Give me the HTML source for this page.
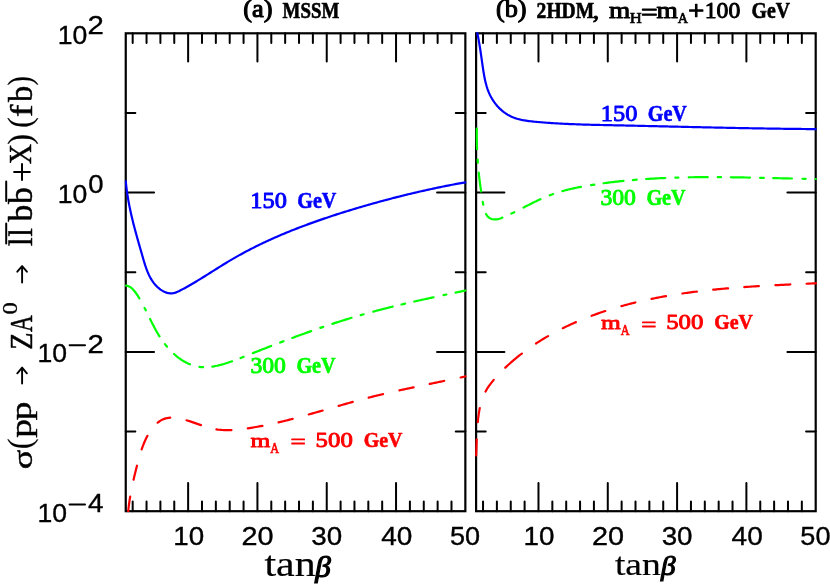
<!DOCTYPE html>
<html><head><meta charset="utf-8"><title>plot</title>
<style>html,body{margin:0;padding:0;background:#fff;}svg{display:block;}svg{font-family:"Liberation Sans",sans-serif;}.ser{font-family:"Liberation Serif",serif;}.lab{font-family:"Liberation Serif",serif;font-weight:bold;}</style></head><body>
<svg width="830" height="585" viewBox="0 0 830 585" style="will-change:transform">
<rect width="830" height="585" fill="#fff"/>
<defs>
<clipPath id="cl"><rect x="124.55" y="32.20" width="342.00" height="480.10"/></clipPath>
<clipPath id="cr"><rect x="474.90" y="32.20" width="342.00" height="480.10"/></clipPath>
</defs>
<g stroke="#000" fill="none" stroke-linecap="round">
<rect x="125.75" y="33.30" width="339.60" height="477.90" stroke-width="2.20" stroke-linejoin="miter"/>
<path d="M132.68 33.30v9.60M132.68 511.20v-9.60M146.54 33.30v9.60M146.54 511.20v-9.60M160.40 33.30v9.60M160.40 511.20v-9.60M174.26 33.30v9.60M174.26 511.20v-9.60M188.13 33.30v28.30M188.13 511.20v-28.30M201.99 33.30v9.60M201.99 511.20v-9.60M215.85 33.30v9.60M215.85 511.20v-9.60M229.71 33.30v9.60M229.71 511.20v-9.60M243.57 33.30v9.60M243.57 511.20v-9.60M257.43 33.30v28.30M257.43 511.20v-28.30M271.29 33.30v9.60M271.29 511.20v-9.60M285.15 33.30v9.60M285.15 511.20v-9.60M299.02 33.30v9.60M299.02 511.20v-9.60M312.88 33.30v9.60M312.88 511.20v-9.60M326.74 33.30v28.30M326.74 511.20v-28.30M340.60 33.30v9.60M340.60 511.20v-9.60M354.46 33.30v9.60M354.46 511.20v-9.60M368.32 33.30v9.60M368.32 511.20v-9.60M382.18 33.30v9.60M382.18 511.20v-9.60M396.04 33.30v28.30M396.04 511.20v-28.30M409.91 33.30v9.60M409.91 511.20v-9.60M423.77 33.30v9.60M423.77 511.20v-9.60M437.63 33.30v9.60M437.63 511.20v-9.60M451.49 33.30v9.60M451.49 511.20v-9.60M125.75 112.95h9.60M465.35 112.95h-9.60M125.75 192.60h28.30M465.35 192.60h-28.30M125.75 272.25h9.60M465.35 272.25h-9.60M125.75 351.90h28.30M465.35 351.90h-28.30M125.75 431.55h9.60M465.35 431.55h-9.60" stroke-width="2.00"/>
</g>
<g stroke="#000" fill="none" stroke-linecap="round">
<rect x="476.10" y="33.30" width="339.60" height="477.90" stroke-width="2.20" stroke-linejoin="miter"/>
<path d="M483.03 33.30v9.60M483.03 511.20v-9.60M496.89 33.30v9.60M496.89 511.20v-9.60M510.75 33.30v9.60M510.75 511.20v-9.60M524.61 33.30v9.60M524.61 511.20v-9.60M538.48 33.30v28.30M538.48 511.20v-28.30M552.34 33.30v9.60M552.34 511.20v-9.60M566.20 33.30v9.60M566.20 511.20v-9.60M580.06 33.30v9.60M580.06 511.20v-9.60M593.92 33.30v9.60M593.92 511.20v-9.60M607.78 33.30v28.30M607.78 511.20v-28.30M621.64 33.30v9.60M621.64 511.20v-9.60M635.50 33.30v9.60M635.50 511.20v-9.60M649.37 33.30v9.60M649.37 511.20v-9.60M663.23 33.30v9.60M663.23 511.20v-9.60M677.09 33.30v28.30M677.09 511.20v-28.30M690.95 33.30v9.60M690.95 511.20v-9.60M704.81 33.30v9.60M704.81 511.20v-9.60M718.67 33.30v9.60M718.67 511.20v-9.60M732.53 33.30v9.60M732.53 511.20v-9.60M746.39 33.30v28.30M746.39 511.20v-28.30M760.26 33.30v9.60M760.26 511.20v-9.60M774.12 33.30v9.60M774.12 511.20v-9.60M787.98 33.30v9.60M787.98 511.20v-9.60M801.84 33.30v9.60M801.84 511.20v-9.60M476.10 112.95h9.60M815.70 112.95h-9.60M476.10 192.60h28.30M815.70 192.60h-28.30M476.10 272.25h9.60M815.70 272.25h-9.60M476.10 351.90h28.30M815.70 351.90h-28.30M476.10 431.55h9.60M815.70 431.55h-9.60" stroke-width="2.00"/>
</g>
<g fill="none" stroke-width="2.20" stroke-linecap="round" stroke-linejoin="round">
<g clip-path="url(#cl)">
<path d="M125.80 181.40L125.94 182.89L126.09 184.39L126.26 185.88L126.43 187.37L126.61 188.86L126.80 190.34L127.00 191.83L127.22 193.31L127.44 194.80L127.67 196.28L127.91 197.76L128.16 199.24L128.42 200.72L128.68 202.19L128.96 203.67L129.24 205.14L129.53 206.61L129.83 208.08L130.14 209.55L130.45 211.02L130.77 212.48L131.10 213.95L131.43 215.41L131.77 216.87L132.12 218.33L132.47 219.79L132.83 221.24L133.19 222.70L133.56 224.15L133.93 225.61L134.31 227.06L134.69 228.51L135.08 229.96L135.47 231.41L135.86 232.86L136.26 234.30L136.65 235.75L137.06 237.19L137.46 238.64L137.87 240.08L138.27 241.53L138.68 242.97L139.09 244.41L139.51 245.85L139.92 247.30L140.33 248.74L140.75 250.18L141.16 251.62L141.58 253.06L141.99 254.50L142.41 255.95L142.82 257.39L143.23 258.83L143.65 260.27L144.08 261.71L144.52 263.14L144.96 264.57L145.43 266.00L145.91 267.42L146.41 268.84L146.93 270.24L147.48 271.64L148.06 273.02L148.67 274.39L149.32 275.75L150.00 277.08L150.72 278.40L151.49 279.68L152.30 280.95L153.16 282.18L154.07 283.37L155.02 284.52L156.03 285.63L157.09 286.70L158.20 287.71L159.35 288.67L160.55 289.57L161.80 290.40L163.09 291.16L164.43 291.84L165.82 292.41L167.24 292.88L168.70 293.21L170.19 293.38L171.69 293.37L173.18 293.18L174.64 292.83L176.06 292.37L177.46 291.81L178.82 291.19L180.16 290.52L181.49 289.82L182.82 289.12L184.14 288.41L185.45 287.68L186.76 286.96L188.07 286.22L189.37 285.48L190.67 284.73L191.97 283.98L193.27 283.22L194.56 282.45L195.84 281.69L197.13 280.91L198.41 280.14L199.69 279.35L200.97 278.57L202.25 277.78L203.52 276.99L204.80 276.20L206.07 275.40L207.34 274.61L208.61 273.81L209.88 273.01L211.15 272.21L212.42 271.41L213.69 270.61L214.96 269.81L216.23 269.01L217.50 268.22L218.77 267.42L220.04 266.63L221.31 265.83L222.59 265.04L223.87 264.26L225.15 263.47L226.43 262.69L227.71 261.92L229.00 261.15L230.29 260.38L231.58 259.62L232.87 258.86L234.17 258.11L235.47 257.36L236.77 256.62L238.08 255.88L239.39 255.15L240.70 254.43L242.02 253.70L243.34 252.99L244.66 252.28L245.98 251.57L247.31 250.87L248.64 250.18L249.97 249.48L251.30 248.80L252.64 248.12L253.98 247.44L255.32 246.77L256.66 246.10L258.01 245.44L259.36 244.78L260.71 244.13L262.06 243.48L263.41 242.84L264.77 242.20L266.13 241.56L267.49 240.93L268.85 240.30L270.22 239.68L271.59 239.06L272.95 238.45L274.33 237.84L275.70 237.24L277.07 236.64L278.45 236.04L279.83 235.45L281.21 234.86L282.59 234.27L283.97 233.69L285.36 233.12L286.74 232.54L288.13 231.97L289.52 231.41L290.91 230.85L292.30 230.29L293.70 229.74L295.09 229.19L296.49 228.64L297.89 228.10L299.29 227.56L300.69 227.02L302.09 226.49L303.49 225.96L304.90 225.43L306.30 224.91L307.71 224.39L309.12 223.87L310.53 223.36L311.94 222.85L313.35 222.35L314.77 221.84L316.18 221.34L317.59 220.84L319.01 220.35L320.43 219.86L321.85 219.37L323.27 218.88L324.69 218.40L326.11 217.92L327.53 217.44L328.95 216.97L330.38 216.50L331.80 216.03L333.23 215.56L334.65 215.10L336.08 214.63L337.51 214.17L338.94 213.72L340.36 213.26L341.79 212.81L343.23 212.36L344.66 211.91L346.09 211.47L347.52 211.02L348.96 210.58L350.39 210.14L351.83 209.70L353.26 209.27L354.70 208.83L356.13 208.40L357.57 207.97L359.01 207.55L360.45 207.12L361.89 206.70L363.33 206.28L364.77 205.86L366.21 205.44L367.65 205.03L369.09 204.62L370.53 204.21L371.98 203.80L373.42 203.39L374.87 202.99L376.31 202.59L377.76 202.19L379.20 201.79L380.65 201.39L382.10 201.00L383.55 200.61L385.00 200.22L386.44 199.83L387.89 199.45L389.34 199.07L390.80 198.69L392.25 198.31L393.70 197.93L395.15 197.56L396.61 197.19L398.06 196.82L399.51 196.45L400.97 196.09L402.42 195.73L403.88 195.37L405.34 195.01L406.79 194.65L408.25 194.30L409.71 193.95L411.17 193.60L412.63 193.25L414.09 192.91L415.55 192.56L417.01 192.22L418.47 191.89L419.93 191.55L421.40 191.22L422.86 190.89L424.32 190.56L425.79 190.23L427.25 189.91L428.72 189.59L430.18 189.27L431.65 188.95L433.12 188.63L434.58 188.32L436.05 188.01L437.52 187.70L438.99 187.40L440.46 187.10L441.93 186.79L443.40 186.50L444.87 186.20L446.34 185.91L447.81 185.61L449.28 185.33L450.75 185.04L452.22 184.75L453.70 184.47L455.17 184.19L456.65 183.91L458.12 183.64L459.60 183.37L461.07 183.10L462.55 182.83L464.02 182.56L465.50 182.30" stroke="#0000ff"/>
<path d="M125.88 285.53L127.46 285.83L128.96 286.42L130.36 287.23L131.65 288.20L132.84 289.29L133.94 290.47L134.96 291.72L135.93 293.01L136.85 294.34L137.73 295.69L138.58 297.07L139.40 298.46M144.55 307.93L145.77 310.32M150.06 318.97L150.74 320.33L151.42 321.70L152.10 323.05L152.80 324.41L153.50 325.76L154.20 327.11L154.92 328.46L155.65 329.79L156.40 331.12L157.15 332.44L157.92 333.76L158.71 335.06L159.51 336.36M164.96 344.14L165.99 345.43L167.04 346.70M174.03 353.98L175.23 355.04L176.45 356.07L177.69 357.07L178.96 358.04L180.25 358.97L181.57 359.87L182.92 360.73L184.29 361.54L185.69 362.32L187.11 363.04L188.55 363.72L190.02 364.35M199.45 366.85L201.27 367.04L203.10 367.14M212.34 366.57L213.90 366.33L215.45 366.04L216.99 365.73L218.53 365.38L220.06 365.01L221.58 364.61L223.10 364.19L224.61 363.75L226.12 363.29L227.62 362.81L229.12 362.31L230.61 361.80L232.09 361.27M240.56 358.04L242.10 357.43L243.64 356.82M252.80 353.17L254.22 352.61L255.63 352.05L257.04 351.49L258.46 350.93L259.87 350.38L261.28 349.82L262.70 349.27L264.11 348.71L265.53 348.16L266.94 347.61L268.36 347.05L269.78 346.50L271.19 345.96M280.16 342.51L281.84 341.87L283.52 341.23M292.26 337.95L293.72 337.41L295.17 336.88L296.62 336.34L298.07 335.81L299.52 335.28L300.98 334.75L302.43 334.22L303.88 333.69L305.34 333.17L306.80 332.65L308.25 332.13L309.71 331.61L311.17 331.09M320.31 327.91L321.79 327.40L323.26 326.90M332.38 323.86L333.85 323.38L335.32 322.90L336.79 322.42L338.26 321.95L339.73 321.48L341.21 321.01L342.68 320.55L344.16 320.09L345.63 319.63L347.11 319.17L348.59 318.72L350.07 318.27L351.55 317.82M360.76 315.10L363.63 314.29M373.35 311.61L374.83 311.21L376.32 310.81L377.80 310.42L379.29 310.03L380.77 309.64L382.26 309.26L383.75 308.88L385.23 308.50L386.72 308.12L388.21 307.75L389.70 307.37L391.19 307.00L392.68 306.63M401.50 304.50L403.31 304.07L405.13 303.65M414.23 301.55L415.73 301.21L417.22 300.87L418.72 300.53L420.21 300.20L421.71 299.87L423.20 299.53L424.70 299.20L426.19 298.87L427.69 298.55L429.18 298.22L430.68 297.89L432.18 297.57L433.67 297.25M443.54 295.13L446.39 294.53M455.53 292.61L457.21 292.25L458.89 291.90L460.57 291.55L462.24 291.20L463.92 290.85L465.60 290.50" stroke="#00ff00"/>
<path d="M128.20 511.50L128.35 509.99L128.51 508.49L128.69 506.98L128.87 505.48L129.07 503.98L129.27 502.48L129.49 500.98L129.71 499.48L129.95 497.99L130.20 496.49M133.55 479.73L133.91 478.17L134.28 476.61L134.65 475.05L135.03 473.49L135.41 471.94L135.80 470.38L136.19 468.83L136.58 467.27L136.98 465.72M141.64 449.41L142.18 447.86L142.74 446.32L143.33 444.78L143.94 443.26L144.58 441.74L145.25 440.25L145.96 438.76L146.69 437.29L147.46 435.84M157.66 422.71L158.87 421.76L160.13 420.89L161.44 420.11L162.81 419.43L164.23 418.85L165.70 418.39L167.19 418.05L168.70 417.82L170.23 417.69M186.53 420.27L187.98 420.71L189.43 421.17L190.88 421.65L192.32 422.13L193.76 422.62L195.20 423.12L196.64 423.63L198.07 424.13L199.51 424.63L200.95 425.13M216.41 429.34L217.91 429.56L219.41 429.74L220.91 429.89L222.42 430.01L223.93 430.09L225.44 430.14L226.95 430.17L228.46 430.16L229.97 430.13L231.48 430.07M247.82 428.32L249.44 428.07L251.07 427.81L252.69 427.55L254.31 427.28L255.93 427.00L257.55 426.71L259.17 426.41L260.78 426.11L262.40 425.80M278.52 422.35L280.09 421.98L281.67 421.60L283.24 421.22L284.81 420.84L286.38 420.45L287.95 420.06L289.52 419.66L291.09 419.26L292.66 418.85M308.78 414.49L310.32 414.06L311.87 413.62L313.41 413.18L314.96 412.74L316.50 412.30L318.04 411.86L319.58 411.42L321.13 410.98L322.67 410.53M338.66 405.91L340.23 405.46L341.79 405.01L343.36 404.56L344.93 404.12L346.49 403.67L348.06 403.23L349.63 402.79L351.19 402.35L352.76 401.91M368.70 397.63L370.29 397.23L371.88 396.82L373.48 396.42L375.07 396.03L376.66 395.63L378.26 395.25L379.86 394.86L381.45 394.48L383.05 394.10M399.40 390.37L400.98 390.02L402.57 389.68L404.15 389.33L405.73 388.99L407.32 388.65L408.90 388.31L410.48 387.97L412.07 387.64L413.65 387.30M429.74 383.95L431.35 383.62L432.96 383.28L434.57 382.95L436.18 382.62L437.78 382.29L439.39 381.95L441.00 381.62L442.61 381.29L444.22 380.95M460.70 377.47L462.33 377.11L463.97 376.76L465.60 376.40" stroke="#ff0000"/>
</g>
<g clip-path="url(#cr)">
<path d="M477.30 33.00L477.61 34.47L477.91 35.94L478.20 37.42L478.48 38.89L478.75 40.37L479.01 41.85L479.26 43.33L479.51 44.81L479.75 46.30L479.98 47.78L480.21 49.26L480.44 50.75L480.66 52.24L480.88 53.72L481.09 55.21L481.30 56.70L481.52 58.18L481.73 59.67L481.94 61.16L482.15 62.65L482.37 64.13L482.58 65.62L482.80 67.11L483.03 68.59L483.25 70.08L483.48 71.56L483.72 73.04L483.98 74.53L484.24 76.00L484.52 77.48L484.81 78.95L485.13 80.42L485.46 81.89L485.82 83.35L486.21 84.80L486.62 86.24L487.07 87.68L487.54 89.10L488.05 90.51L488.60 91.91L489.19 93.29L489.82 94.66L490.49 96.00L491.20 97.33L491.94 98.63L492.73 99.91L493.55 101.17L494.41 102.40L495.31 103.61L496.25 104.78L497.22 105.93L498.23 107.04L499.27 108.12L500.35 109.17L501.46 110.17L502.61 111.14L503.79 112.07L505.01 112.96L506.25 113.80L507.52 114.60L508.83 115.35L510.16 116.04L511.51 116.69L512.89 117.29L514.29 117.84L515.71 118.33L517.14 118.78L518.59 119.18L520.05 119.54L521.51 119.87L522.99 120.17L524.46 120.43L525.95 120.67L527.43 120.89L528.92 121.08L530.42 121.26L531.91 121.43L533.40 121.58L534.90 121.73L536.39 121.87L537.89 122.00L539.39 122.14L540.88 122.26L542.38 122.39L543.88 122.51L545.38 122.62L546.87 122.74L548.37 122.85L549.87 122.95L551.37 123.05L552.87 123.15L554.37 123.25L555.87 123.34L557.37 123.43L558.87 123.51L560.37 123.60L561.87 123.68L563.37 123.75L564.87 123.83L566.37 123.90L567.87 123.97L569.37 124.03L570.87 124.10L572.37 124.16L573.88 124.22L575.38 124.27L576.88 124.33L578.38 124.38L579.88 124.43L581.38 124.48L582.88 124.53L584.39 124.57L585.89 124.62L587.39 124.66L588.89 124.70L590.39 124.74L591.89 124.78L593.40 124.82L594.90 124.85L596.40 124.89L597.90 124.92L599.40 124.96L600.91 124.99L602.41 125.02L603.91 125.06L605.41 125.09L606.91 125.12L608.42 125.15L609.92 125.18L611.42 125.21L612.92 125.25L614.42 125.28L615.93 125.31L617.43 125.34L618.93 125.37L620.43 125.41L621.93 125.44L623.44 125.47L624.94 125.50L626.44 125.54L627.94 125.57L629.44 125.60L630.95 125.64L632.45 125.67L633.95 125.70L635.45 125.74L636.95 125.77L638.46 125.81L639.96 125.84L641.46 125.87L642.96 125.91L644.46 125.94L645.97 125.98L647.47 126.01L648.97 126.04L650.47 126.08L651.97 126.11L653.48 126.15L654.98 126.18L656.48 126.22L657.98 126.25L659.48 126.29L660.98 126.32L662.49 126.36L663.99 126.39L665.49 126.43L666.99 126.46L668.49 126.50L670.00 126.53L671.50 126.56L673.00 126.60L674.50 126.63L676.00 126.67L677.51 126.70L679.01 126.74L680.51 126.77L682.01 126.81L683.51 126.84L685.02 126.88L686.52 126.91L688.02 126.94L689.52 126.98L691.02 127.01L692.53 127.05L694.03 127.08L695.53 127.11L697.03 127.15L698.53 127.18L700.04 127.22L701.54 127.25L703.04 127.28L704.54 127.32L706.04 127.35L707.55 127.38L709.05 127.41L710.55 127.45L712.05 127.48L713.55 127.51L715.06 127.54L716.56 127.58L718.06 127.61L719.56 127.64L721.06 127.67L722.57 127.70L724.07 127.73L725.57 127.77L727.07 127.80L728.57 127.83L730.08 127.86L731.58 127.89L733.08 127.92L734.58 127.95L736.08 127.98L737.59 128.01L739.09 128.04L740.59 128.06L742.09 128.09L743.59 128.12L745.10 128.15L746.60 128.18L748.10 128.20L749.60 128.23L751.10 128.26L752.61 128.29L754.11 128.31L755.61 128.34L757.11 128.37L758.62 128.39L760.12 128.42L761.62 128.44L763.12 128.47L764.62 128.49L766.13 128.51L767.63 128.54L769.13 128.56L770.63 128.59L772.13 128.61L773.64 128.63L775.14 128.65L776.64 128.67L778.14 128.70L779.65 128.72L781.15 128.74L782.65 128.76L784.15 128.78L785.65 128.80L787.16 128.82L788.66 128.84L790.16 128.85L791.66 128.87L793.17 128.89L794.67 128.91L796.17 128.92L797.67 128.94L799.17 128.96L800.68 128.97L802.18 128.99L803.68 129.00L805.18 129.01L806.69 129.03L808.19 129.04L809.69 129.05L811.19 129.07L812.70 129.08L814.20 129.09L815.70 129.10" stroke="#0000ff"/>
<path d="M476.80 128.50L476.79 130.09L476.78 131.68L476.77 133.27L476.77 134.86L476.78 136.45L476.79 138.04L476.81 139.63L476.84 141.22L476.87 142.81L476.91 144.40L476.95 145.99L477.00 147.58L477.06 149.16M477.61 159.52L477.72 161.08L477.83 162.64M478.74 172.70L478.91 174.26L479.08 175.83L479.26 177.40L479.45 178.97L479.64 180.54L479.84 182.10L480.04 183.67L480.25 185.23L480.46 186.80L480.68 188.36L480.90 189.92L481.13 191.48M482.77 201.95L483.24 204.67M486.03 213.96L486.83 215.31L487.79 216.54L488.94 217.60L490.28 218.43L491.74 219.00L493.27 219.33L494.83 219.44L496.39 219.36L497.94 219.10L499.45 218.69L500.93 218.17L502.39 217.59M511.34 213.58L512.80 212.89L514.25 212.18M523.58 207.50L524.98 206.79L526.37 206.08L527.77 205.37L529.17 204.66L530.57 203.96L531.97 203.26L533.37 202.57L534.78 201.88L536.19 201.20L537.60 200.52L539.02 199.86L540.44 199.21M549.80 195.28L551.45 194.67L553.11 194.08M562.41 191.15L563.94 190.72L565.47 190.31L567.01 189.91L568.55 189.52L570.09 189.15L571.64 188.79L573.19 188.44L574.74 188.10L576.29 187.77L577.84 187.45L579.40 187.14L580.96 186.83M591.09 185.07L592.71 184.81L594.33 184.56M603.65 183.23L605.17 183.02L606.70 182.82L608.22 182.63L609.75 182.44L611.28 182.25L612.80 182.07L614.33 181.89L615.86 181.71L617.39 181.54L618.91 181.37L620.44 181.21L621.97 181.05L623.50 180.89M632.84 180.03L634.79 179.86L636.73 179.70M646.08 179.02L647.68 178.91L649.28 178.81L650.89 178.71L652.49 178.62L654.10 178.53L655.71 178.44L657.31 178.36L658.92 178.27L660.52 178.20L662.13 178.12L663.74 178.05L665.34 177.98M675.34 177.62L676.86 177.57L678.39 177.53M688.67 177.30L690.26 177.27L691.84 177.25L693.42 177.23L695.01 177.21L696.59 177.19L698.18 177.17L699.76 177.16L701.35 177.15L702.93 177.14L704.52 177.13L706.10 177.13L707.69 177.12M717.77 177.14L719.40 177.15L721.03 177.16M730.76 177.26L732.36 177.28L733.97 177.30L735.57 177.32L737.18 177.35L738.78 177.37L740.38 177.40L741.99 177.42L743.59 177.45L745.19 177.48L746.80 177.51L748.40 177.54L750.01 177.57M760.09 177.78L761.94 177.83L763.78 177.87M773.16 178.09L774.72 178.12L776.28 178.16L777.84 178.20L779.41 178.23L780.97 178.27L782.53 178.31L784.09 178.34L785.66 178.38L787.22 178.42L788.78 178.45L790.34 178.49L791.91 178.52M802.48 178.75L804.08 178.79L805.68 178.82M815.55 178.99L815.90 179.00" stroke="#00ff00"/>
<path d="M476.20 455.50L476.25 453.90L476.31 452.29L476.36 450.69L476.40 449.09L476.45 447.48L476.50 445.88L476.55 444.27L476.61 442.67L476.66 441.07L476.72 439.46M477.79 422.10L477.94 420.53L478.11 418.96L478.29 417.40L478.49 415.84L478.71 414.28L478.94 412.73L479.20 411.17L479.48 409.63L479.79 408.08M485.53 391.50L486.31 390.12L487.12 388.77L487.98 387.43L488.87 386.13L489.79 384.84L490.74 383.57L491.71 382.33L492.71 381.10L493.72 379.88M505.30 367.67L506.43 366.60L507.57 365.54L508.72 364.50L509.88 363.46L511.04 362.43L512.21 361.41L513.39 360.40L514.58 359.39L515.77 358.40L516.97 357.41L518.18 356.43L519.39 355.47L520.61 354.51L521.84 353.55M535.98 343.51L537.31 342.66L538.63 341.80L539.96 340.96L541.30 340.13L542.64 339.31L543.99 338.49L545.34 337.68L546.70 336.88L548.07 336.09M562.81 328.22L564.25 327.51L565.70 326.81L567.15 326.12L568.60 325.43L570.06 324.76L571.52 324.09L572.98 323.43L574.45 322.78L575.92 322.13M591.63 315.80L593.13 315.24L594.64 314.69L596.15 314.15L597.66 313.61L599.18 313.08L600.70 312.56L602.22 312.04L603.74 311.53L605.27 311.03M621.45 306.13L622.99 305.70L624.54 305.28L626.09 304.86L627.64 304.45L629.19 304.05L630.74 303.65L632.30 303.25L633.85 302.87L635.41 302.49M651.50 298.88L653.11 298.56L654.72 298.23L656.34 297.91L657.95 297.60L659.57 297.29L661.19 296.99L662.80 296.70L664.42 296.40L666.04 296.12M682.37 293.49L683.98 293.26L685.59 293.03L687.20 292.81L688.81 292.59L690.42 292.37L692.03 292.16L693.65 291.95L695.26 291.74L696.87 291.54M713.20 289.70L714.86 289.54L716.51 289.37L718.16 289.21L719.82 289.05L721.47 288.90L723.13 288.75L724.78 288.60L726.44 288.46L728.09 288.31M744.28 287.06L745.90 286.95L747.51 286.84L749.13 286.73L750.75 286.62L752.37 286.51L753.98 286.41L755.60 286.31L757.22 286.21L758.84 286.11M775.37 285.20L777.03 285.11L778.69 285.03L780.35 284.94L782.01 284.86L783.67 284.78L785.33 284.70L786.99 284.62L788.65 284.54L790.31 284.47M806.54 283.73L808.13 283.66L809.73 283.59L811.32 283.51L812.91 283.44L814.51 283.37L816.10 283.30" stroke="#ff0000"/>
</g>
</g>
<text transform="translate(175.55 527.15) scale(0.2778 0.2521) translate(-108 -130)" x="100" y="200" font-family="Liberation Sans" font-weight="normal" font-style="normal" font-size="100" stroke="#000" stroke-width="1.4">10</text>
<text transform="translate(243.05 527.15) scale(0.2882 0.2521) translate(-105 -130)" x="100" y="200" font-family="Liberation Sans" font-weight="normal" font-style="normal" font-size="100" stroke="#000" stroke-width="1.4">20</text>
<text transform="translate(312.45 527.15) scale(0.2777 0.2521) translate(-104 -130)" x="100" y="200" font-family="Liberation Sans" font-weight="normal" font-style="normal" font-size="100" stroke="#000" stroke-width="1.4">30</text>
<text transform="translate(381.85 527.15) scale(0.2800 0.2521) translate(-102 -130)" x="100" y="200" font-family="Liberation Sans" font-weight="normal" font-style="normal" font-size="100" stroke="#000" stroke-width="1.4">40</text>
<text transform="translate(451.15 527.15) scale(0.2709 0.2521) translate(-104 -130)" x="100" y="200" font-family="Liberation Sans" font-weight="normal" font-style="normal" font-size="100" stroke="#000" stroke-width="1.4">50</text>
<text transform="translate(525.85 527.15) scale(0.2778 0.2521) translate(-108 -130)" x="100" y="200" font-family="Liberation Sans" font-weight="normal" font-style="normal" font-size="100" stroke="#000" stroke-width="1.4">10</text>
<text transform="translate(593.35 527.15) scale(0.2882 0.2521) translate(-105 -130)" x="100" y="200" font-family="Liberation Sans" font-weight="normal" font-style="normal" font-size="100" stroke="#000" stroke-width="1.4">20</text>
<text transform="translate(662.75 527.15) scale(0.2777 0.2521) translate(-104 -130)" x="100" y="200" font-family="Liberation Sans" font-weight="normal" font-style="normal" font-size="100" stroke="#000" stroke-width="1.4">30</text>
<text transform="translate(732.15 527.15) scale(0.2800 0.2521) translate(-102 -130)" x="100" y="200" font-family="Liberation Sans" font-weight="normal" font-style="normal" font-size="100" stroke="#000" stroke-width="1.4">40</text>
<text transform="translate(801.45 527.15) scale(0.2709 0.2521) translate(-104 -130)" x="100" y="200" font-family="Liberation Sans" font-weight="normal" font-style="normal" font-size="100" stroke="#000" stroke-width="1.4">50</text>
<text transform="translate(59.95 25.65) scale(0.2657 0.2606) translate(-108 -130)" x="100" y="200" font-family="Liberation Sans" font-weight="normal" font-style="normal" font-size="100" stroke="#000" stroke-width="1.4">10</text>
<text transform="translate(88.95 16.45) scale(0.2935 0.2571) translate(-105 -130)" x="100" y="200" font-family="Liberation Sans" font-weight="normal" font-style="normal" font-size="100" stroke="#000" stroke-width="1.4">2</text>
<text transform="translate(59.95 184.95) scale(0.2657 0.2606) translate(-108 -130)" x="100" y="200" font-family="Liberation Sans" font-weight="normal" font-style="normal" font-size="100" stroke="#000" stroke-width="1.4">10</text>
<text transform="translate(89.35 175.75) scale(0.2750 0.2535) translate(-104 -130)" x="100" y="200" font-family="Liberation Sans" font-weight="normal" font-style="normal" font-size="100" stroke="#000" stroke-width="1.4">0</text>
<text transform="translate(39.65 344.25) scale(0.2657 0.2606) translate(-108 -130)" x="100" y="200" font-family="Liberation Sans" font-weight="normal" font-style="normal" font-size="100" stroke="#000" stroke-width="1.4">10</text>
<text transform="translate(88.95 335.05) scale(0.2935 0.2571) translate(-105 -130)" x="100" y="200" font-family="Liberation Sans" font-weight="normal" font-style="normal" font-size="100" stroke="#000" stroke-width="1.4">2</text>
<path d="M69.6 345.20H85.0" stroke="#000" stroke-width="2" stroke-linecap="round" fill="none"/>
<text transform="translate(39.65 503.55) scale(0.2657 0.2606) translate(-108 -130)" x="100" y="200" font-family="Liberation Sans" font-weight="normal" font-style="normal" font-size="100" stroke="#000" stroke-width="1.4">10</text>
<text transform="translate(88.55 494.35) scale(0.2784 0.2571) translate(-102 -130)" x="100" y="200" font-family="Liberation Sans" font-weight="normal" font-style="normal" font-size="100" stroke="#000" stroke-width="1.4">4</text>
<path d="M69.6 504.50H85.0" stroke="#000" stroke-width="2" stroke-linecap="round" fill="none"/>
<text transform="translate(264.80 556.30) scale(0.4200 0.3579) translate(-101 -144)" x="100" y="200" font-family="Liberation Serif" font-weight="normal" font-style="normal" font-size="100" stroke="#000" stroke-width="0.6">tan</text>
<text transform="translate(314.70 555.70) scale(0.3115 0.3022) translate(-98 -130)" x="100" y="200" font-family="Liberation Serif" font-weight="normal" font-style="italic" font-size="100" stroke="#000" stroke-width="4.0">β</text>
<text transform="translate(615.30 557.20) scale(0.3750 0.3228) translate(-101 -144)" x="100" y="200" font-family="Liberation Serif" font-weight="normal" font-style="normal" font-size="100" stroke="#000" stroke-width="0.6">tan</text>
<text transform="translate(660.30 556.80) scale(0.2923 0.2659) translate(-98 -130)" x="100" y="200" font-family="Liberation Serif" font-weight="normal" font-style="italic" font-size="100" stroke="#000" stroke-width="4.0">β</text>
<text transform="translate(244.40 0.40) scale(0.2641 0.2422) translate(-104 -131)" x="100" y="200" font-family="Liberation Serif" font-weight="normal" font-style="normal" font-size="100" stroke="#000" stroke-width="4.2" stroke-linejoin="round">(a)</text>
<text transform="translate(283.00 3.30) scale(0.1888 0.2235) translate(-102 -134)" x="100" y="200" font-family="Liberation Serif" font-weight="bold" font-style="normal" font-size="100" stroke="#000" stroke-width="2.8" stroke-linejoin="round">MSSM</text>
<text transform="translate(497.00 0.40) scale(0.2630 0.2422) translate(-104 -131)" x="100" y="200" font-family="Liberation Serif" font-weight="normal" font-style="normal" font-size="100" stroke="#000" stroke-width="4.2" stroke-linejoin="round">(b)</text>
<text transform="translate(537.40 3.30) scale(0.1955 0.2254) translate(-104 -134)" x="100" y="200" font-family="Liberation Serif" font-weight="bold" font-style="normal" font-size="100" stroke="#000" stroke-width="2.8" stroke-linejoin="round">2HDM</text>
<text transform="translate(593.80 15.20) scale(0.2533 0.2346) translate(-104 -190)" x="100" y="200" font-family="Liberation Serif" font-weight="normal" font-style="normal" font-size="100" stroke="#000" stroke-width="4.2" stroke-linejoin="round">,</text>
<text transform="translate(609.60 7.70) scale(0.2730 0.2255) translate(-102 -153)" x="100" y="200" font-family="Liberation Serif" font-weight="normal" font-style="normal" font-size="100" stroke="#000" stroke-width="4.2" stroke-linejoin="round">m</text>
<text transform="translate(630.20 13.30) scale(0.1667 0.1545) translate(-103 -135)" x="100" y="200" font-family="Liberation Serif" font-weight="normal" font-style="normal" font-size="100" stroke="#000" stroke-width="4.2" stroke-linejoin="round">H</text>
<text transform="translate(642.50 10.00) scale(0.2957 0.2440) translate(-105 -154)" x="100" y="200" font-family="Liberation Serif" font-weight="normal" font-style="normal" font-size="100" stroke="#000" stroke-width="4.2" stroke-linejoin="round">=</text>
<text transform="translate(657.00 7.70) scale(0.2743 0.2255) translate(-102 -153)" x="100" y="200" font-family="Liberation Serif" font-weight="normal" font-style="normal" font-size="100" stroke="#000" stroke-width="4.2" stroke-linejoin="round">m</text>
<text transform="translate(677.90 13.30) scale(0.1423 0.1545) translate(-101 -134)" x="100" y="200" font-family="Liberation Serif" font-weight="normal" font-style="normal" font-size="100" stroke="#000" stroke-width="4.2" stroke-linejoin="round">A</text>
<text transform="translate(689.60 4.00) scale(0.2830 0.2830) translate(-105 -143)" x="100" y="200" font-family="Liberation Serif" font-weight="normal" font-style="normal" font-size="100" stroke="#000" stroke-width="4.2" stroke-linejoin="round">+</text>
<text transform="translate(706.90 3.40) scale(0.2365 0.2235) translate(-109 -134)" x="100" y="200" font-family="Liberation Serif" font-weight="normal" font-style="normal" font-size="100" stroke="#000" stroke-width="4.2" stroke-linejoin="round">100</text>
<text transform="translate(752.60 3.30) scale(0.1973 0.2250) translate(-105 -134)" x="100" y="200" font-family="Liberation Serif" font-weight="bold" font-style="normal" font-size="100" stroke="#000" stroke-width="2.8" stroke-linejoin="round">GeV</text>
<text transform="translate(252.50 193.95) scale(0.2438 0.2206) translate(-109 -134)" x="100" y="200" font-family="Liberation Serif" font-weight="normal" font-style="normal" font-size="100" fill="#0000ff" style="fill:#0000ff" stroke="#0000ff" stroke-width="4.2" stroke-linejoin="round">150</text>
<text transform="translate(298.30 193.95) scale(0.2011 0.2206) translate(-105 -134)" x="100" y="200" font-family="Liberation Serif" font-weight="bold" font-style="normal" font-size="100" fill="#0000ff" style="fill:#0000ff" stroke="#0000ff" stroke-width="2.8" stroke-linejoin="round">GeV</text>
<text transform="translate(251.60 358.15) scale(0.2369 0.2206) translate(-105 -134)" x="100" y="200" font-family="Liberation Serif" font-weight="normal" font-style="normal" font-size="100" fill="#00ff00" style="fill:#00ff00" stroke="#00ff00" stroke-width="4.2" stroke-linejoin="round">300</text>
<text transform="translate(297.40 358.15) scale(0.2011 0.2206) translate(-105 -134)" x="100" y="200" font-family="Liberation Serif" font-weight="bold" font-style="normal" font-size="100" fill="#00ff00" style="fill:#00ff00" stroke="#00ff00" stroke-width="2.8" stroke-linejoin="round">GeV</text>
<text transform="translate(251.00 437.75) scale(0.2541 0.1979) translate(-102 -153)" x="100" y="200" font-family="Liberation Serif" font-weight="normal" font-style="normal" font-size="100" fill="#ff0000" style="fill:#ff0000" stroke="#ff0000" stroke-width="4.2" stroke-linejoin="round">m</text>
<text transform="translate(270.40 442.95) scale(0.1225 0.1545) translate(-101 -134)" x="100" y="200" font-family="Liberation Serif" font-weight="normal" font-style="normal" font-size="100" fill="#ff0000" style="fill:#ff0000" stroke="#ff0000" stroke-width="4.2" stroke-linejoin="round">A</text>
<text transform="translate(291.90 439.45) scale(0.2702 0.1960) translate(-105 -154)" x="100" y="200" font-family="Liberation Serif" font-weight="normal" font-style="normal" font-size="100" fill="#ff0000" style="fill:#ff0000" stroke="#ff0000" stroke-width="4.2" stroke-linejoin="round">=</text>
<text transform="translate(317.10 433.15) scale(0.2479 0.2088) translate(-106 -134)" x="100" y="200" font-family="Liberation Serif" font-weight="normal" font-style="normal" font-size="100" fill="#ff0000" style="fill:#ff0000" stroke="#ff0000" stroke-width="4.2" stroke-linejoin="round">500</text>
<text transform="translate(364.70 433.35) scale(0.1989 0.2059) translate(-105 -134)" x="100" y="200" font-family="Liberation Serif" font-weight="bold" font-style="normal" font-size="100" fill="#ff0000" style="fill:#ff0000" stroke="#ff0000" stroke-width="2.8" stroke-linejoin="round">GeV</text>
<text transform="translate(603.00 106.35) scale(0.2438 0.2206) translate(-109 -134)" x="100" y="200" font-family="Liberation Serif" font-weight="normal" font-style="normal" font-size="100" fill="#0000ff" style="fill:#0000ff" stroke="#0000ff" stroke-width="4.2" stroke-linejoin="round">150</text>
<text transform="translate(648.80 106.35) scale(0.2011 0.2206) translate(-105 -134)" x="100" y="200" font-family="Liberation Serif" font-weight="bold" font-style="normal" font-size="100" fill="#0000ff" style="fill:#0000ff" stroke="#0000ff" stroke-width="2.8" stroke-linejoin="round">GeV</text>
<text transform="translate(601.60 190.95) scale(0.2369 0.2206) translate(-105 -134)" x="100" y="200" font-family="Liberation Serif" font-weight="normal" font-style="normal" font-size="100" fill="#00ff00" style="fill:#00ff00" stroke="#00ff00" stroke-width="4.2" stroke-linejoin="round">300</text>
<text transform="translate(647.40 190.95) scale(0.2011 0.2206) translate(-105 -134)" x="100" y="200" font-family="Liberation Serif" font-weight="bold" font-style="normal" font-size="100" fill="#00ff00" style="fill:#00ff00" stroke="#00ff00" stroke-width="2.8" stroke-linejoin="round">GeV</text>
<text transform="translate(601.60 319.95) scale(0.2541 0.1979) translate(-102 -153)" x="100" y="200" font-family="Liberation Serif" font-weight="normal" font-style="normal" font-size="100" fill="#ff0000" style="fill:#ff0000" stroke="#ff0000" stroke-width="4.2" stroke-linejoin="round">m</text>
<text transform="translate(621.00 325.15) scale(0.1225 0.1545) translate(-101 -134)" x="100" y="200" font-family="Liberation Serif" font-weight="normal" font-style="normal" font-size="100" fill="#ff0000" style="fill:#ff0000" stroke="#ff0000" stroke-width="4.2" stroke-linejoin="round">A</text>
<text transform="translate(642.50 321.65) scale(0.2702 0.1960) translate(-105 -154)" x="100" y="200" font-family="Liberation Serif" font-weight="normal" font-style="normal" font-size="100" fill="#ff0000" style="fill:#ff0000" stroke="#ff0000" stroke-width="4.2" stroke-linejoin="round">=</text>
<text transform="translate(667.70 315.35) scale(0.2479 0.2088) translate(-106 -134)" x="100" y="200" font-family="Liberation Serif" font-weight="normal" font-style="normal" font-size="100" fill="#ff0000" style="fill:#ff0000" stroke="#ff0000" stroke-width="4.2" stroke-linejoin="round">500</text>
<text transform="translate(715.30 315.55) scale(0.1989 0.2059) translate(-105 -134)" x="100" y="200" font-family="Liberation Serif" font-weight="bold" font-style="normal" font-size="100" fill="#ff0000" style="fill:#ff0000" stroke="#ff0000" stroke-width="2.8" stroke-linejoin="round">GeV</text>
<g transform="translate(31.80 467.00) rotate(-90)">
<text transform="translate(-0.80 -14.30) scale(0.3646 0.2827) translate(-104 -149)" x="100" y="200" font-family="Liberation Serif" font-weight="normal" font-style="normal" font-size="100" stroke="#000" stroke-width="1.5" stroke-linejoin="round">σ</text>
<text transform="translate(19.10 -24.60) scale(0.3269 0.3422) translate(-104 -131)" x="100" y="200" font-family="Liberation Serif" font-weight="normal" font-style="normal" font-size="100" stroke="#000" stroke-width="0.4">(</text>
<text transform="translate(30.00 -14.60) scale(0.3750 0.2971) translate(-102 -153)" x="100" y="200" font-family="Liberation Serif" font-weight="normal" font-style="normal" font-size="100" stroke="#000" stroke-width="1.5" stroke-linejoin="round">p</text>
<text transform="translate(47.50 -14.60) scale(0.3750 0.2971) translate(-102 -153)" x="100" y="200" font-family="Liberation Serif" font-weight="normal" font-style="normal" font-size="100" stroke="#000" stroke-width="1.5" stroke-linejoin="round">p</text>
<text transform="translate(118.70 -20.50) scale(0.2824 0.3154) translate(-105 -135)" x="100" y="200" font-family="Liberation Serif" font-weight="normal" font-style="normal" font-size="100" stroke="#000" stroke-width="1.5" stroke-linejoin="round">Z</text>
<text transform="translate(135.20 -20.80) scale(0.2310 0.3152) translate(-101 -134)" x="100" y="200" font-family="Liberation Serif" font-weight="normal" font-style="normal" font-size="100" stroke="#000" stroke-width="1.5" stroke-linejoin="round">A</text>
<text transform="translate(153.60 -28.80) scale(0.2476 0.2132) translate(-104 -134)" x="100" y="200" font-family="Liberation Serif" font-weight="normal" font-style="normal" font-size="100" stroke="#000" stroke-width="1.5" stroke-linejoin="round">0</text>
<text transform="translate(221.50 -22.60) scale(0.3208 0.3275) translate(-102 -131)" x="100" y="200" font-family="Liberation Serif" font-weight="normal" font-style="normal" font-size="100" stroke="#000" stroke-width="1.5" stroke-linejoin="round">l</text>
<text transform="translate(231.00 -22.60) scale(0.3125 0.3275) translate(-102 -131)" x="100" y="200" font-family="Liberation Serif" font-weight="normal" font-style="normal" font-size="100" stroke="#000" stroke-width="1.5" stroke-linejoin="round">l</text>
<text transform="translate(245.50 -22.60) scale(0.3370 0.3286) translate(-100 -131)" x="100" y="200" font-family="Liberation Serif" font-weight="normal" font-style="normal" font-size="100" stroke="#000" stroke-width="1.5" stroke-linejoin="round">b</text>
<text transform="translate(263.00 -22.60) scale(0.3370 0.3286) translate(-100 -131)" x="100" y="200" font-family="Liberation Serif" font-weight="normal" font-style="normal" font-size="100" stroke="#000" stroke-width="1.5" stroke-linejoin="round">b</text>
<text transform="translate(303.40 -20.50) scale(0.2809 0.3106) translate(-102 -135)" x="100" y="200" font-family="Liberation Serif" font-weight="normal" font-style="normal" font-size="100" stroke="#000" stroke-width="1.5" stroke-linejoin="round">X</text>
<text transform="translate(323.30 -24.60) scale(0.3269 0.3422) translate(-103 -131)" x="100" y="200" font-family="Liberation Serif" font-weight="normal" font-style="normal" font-size="100" stroke="#000" stroke-width="0.4">)</text>
<text transform="translate(340.30 -24.60) scale(0.3269 0.3422) translate(-104 -131)" x="100" y="200" font-family="Liberation Serif" font-weight="normal" font-style="normal" font-size="100" stroke="#000" stroke-width="0.4">(</text>
<text transform="translate(351.20 -22.90) scale(0.3767 0.3225) translate(-103 -129)" x="100" y="200" font-family="Liberation Serif" font-weight="normal" font-style="normal" font-size="100" stroke="#000" stroke-width="1.5" stroke-linejoin="round">f</text>
<text transform="translate(365.10 -22.60) scale(0.3239 0.3286) translate(-100 -131)" x="100" y="200" font-family="Liberation Serif" font-weight="normal" font-style="normal" font-size="100" stroke="#000" stroke-width="1.5" stroke-linejoin="round">b</text>
<text transform="translate(382.40 -24.60) scale(0.2846 0.3422) translate(-103 -131)" x="100" y="200" font-family="Liberation Serif" font-weight="normal" font-style="normal" font-size="100" stroke="#000" stroke-width="0.4">)</text>
<path d="M287.0 -9.8H302.9M294.95 -17.7V-1.9" fill="none" stroke="#000" stroke-width="2" stroke-linecap="round"/>
<path d="M83.40 -9.7H99.30M93.70 -14.5L99.30 -9.7L93.70 -4.9" fill="none" stroke="#000" stroke-width="1.9" stroke-linecap="round" stroke-linejoin="round"/>
<path d="M184.40 -9.7H200.90M195.30 -14.5L200.90 -9.7L195.30 -4.9" fill="none" stroke="#000" stroke-width="1.9" stroke-linecap="round" stroke-linejoin="round"/>
<path d="M223.5 -25.6H243.5M266.1 -25.6H285.5" fill="none" stroke="#000" stroke-width="2" stroke-linecap="round"/>
</g>
</svg></body></html>
